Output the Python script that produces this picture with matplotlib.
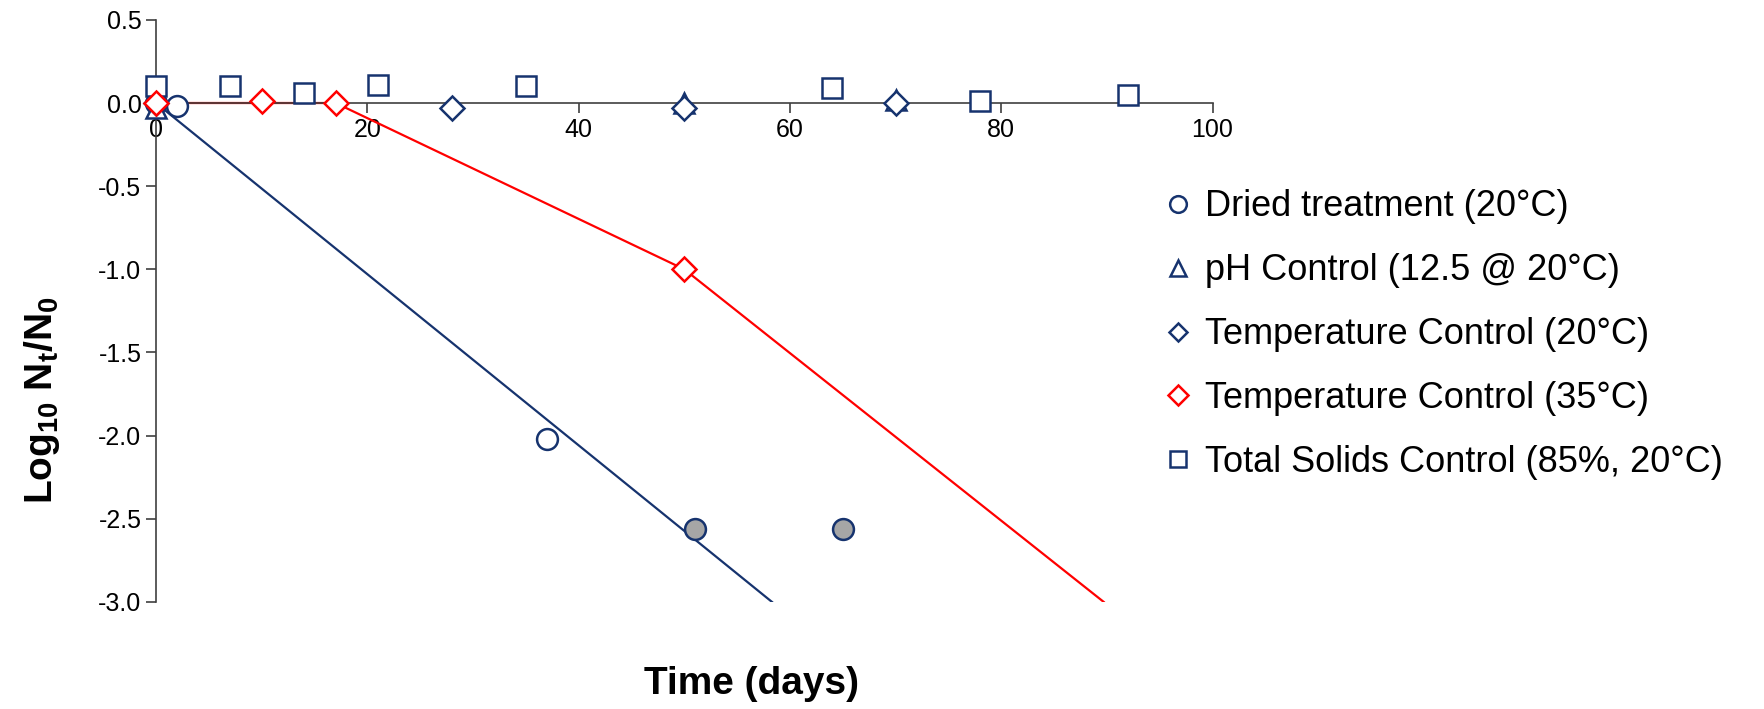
import numpy as np
import matplotlib.pyplot as plt

# Données
dried_t = [0, 2, 37]
dried_y = [0.0, -0.02, -2.02]
dried_nd_t = [51, 65]          # points sous la limite de détection (gris)
dried_nd_y = [-2.56, -2.56]
dried_fit_t = [0, 58.3]
dried_fit_y = [0.0, -3.0]

ph_t = [0, 50, 70]
ph_y = [-0.03, 0.0, 0.02]

temp20_t = [0, 28, 50, 70]
temp20_y = [0.0, -0.03, -0.03, 0.0]

temp35_t = [0, 10, 17, 50]
temp35_y = [0.0, 0.01, 0.0, -1.0]
temp35_fit_t = [0, 17, 50, 89.7]
temp35_fit_y = [0.0, 0.0, -1.0, -3.0]

solids_t = [0, 7, 14, 21, 35, 64, 78, 92]
solids_y = [0.10, 0.10, 0.06, 0.11, 0.10, 0.09, 0.01, 0.05]

navy = '#16336E'
red = '#FF0000'

plt.rcParams['font.family'] = ['Liberation Sans', 'DejaVu Sans']

fig = plt.figure(figsize=(17.65, 7.09), dpi=100)
ax = fig.add_axes([0.0884, 0.151, 0.5986, 0.821])

# Lignes de tendance
ax.plot(dried_fit_t, dried_fit_y, color=navy, lw=1.6, zorder=2)
ax.plot(temp35_fit_t, temp35_fit_y, color=red, lw=1.6, zorder=2)

mk = dict(ls='none', markeredgewidth=1.8, markerfacecolor='white', zorder=3, clip_on=False)
ax.plot(dried_t, dried_y, marker='o', ms=15, color=navy, label='Dried treatment (20°C)', **mk)
ax.plot(dried_nd_t, dried_nd_y, ls='none', marker='o', ms=15, color=navy,
        markerfacecolor='#A6A6A6', markeredgewidth=1.8, zorder=3, clip_on=False)
ax.plot(ph_t, ph_y, marker='^', ms=15, color=navy, label='pH Control (12.5 @ 20°C)', **mk)
ax.plot(temp20_t, temp20_y, marker='D', ms=12, color=navy, label='Temperature Control (20°C)', **mk)
ax.plot(solids_t, solids_y, marker='s', ms=14, color=navy, label='Total Solids Control (85%, 20°C)', **mk)
ax.plot(temp35_t, temp35_y, marker='D', ms=12.5, color=red, label='Temperature Control (35°C)', **mk)

ax.set_xlim(0, 100)
ax.set_ylim(-3.0, 0.5)
ax.set_xticks(np.arange(0, 101, 20))
ax.set_yticks(np.arange(-3.0, 0.51, 0.5))
ax.set_yticklabels([f'{v:.1f}' for v in np.arange(-3.0, 0.51, 0.5)])

ax.spines['top'].set_visible(False)
ax.spines['right'].set_visible(False)
ax.spines['bottom'].set_position(('data', 0))
for s in ('left', 'bottom'):
    ax.spines[s].set_color('#404040')
    ax.spines[s].set_linewidth(1.2)
ax.tick_params(axis='both', labelsize=18, colors='#404040', labelcolor='black',
               width=1.2, length=7, direction='out')

# Titres des axes
fig.text(0.024, 0.436,
         r'Log$_{\mathregular{10}}$ N$_{\mathregular{t}}$/N$_{\mathregular{0}}$',
         rotation=90, ha='center', va='center', fontsize=28, fontweight='bold')
fig.text(0.4255, 0.035, 'Time (days)', ha='center', va='center', fontsize=28, fontweight='bold')

# Légende dans l'ordre du graphique d'origine
handles, labels = ax.get_legend_handles_labels()
order = ['Dried treatment (20°C)', 'pH Control (12.5 @ 20°C)', 'Temperature Control (20°C)',
         'Temperature Control (35°C)', 'Total Solids Control (85%, 20°C)']
hmap = dict(zip(labels, handles))
fig.legend([hmap[l] for l in order], order, loc='center left', bbox_to_anchor=(0.643, 0.528),
           frameon=False, fontsize=26, markerscale=0.8, handlelength=0.6,
           handletextpad=0.45, labelspacing=0.8)

fig.savefig('out.png', dpi=100)
